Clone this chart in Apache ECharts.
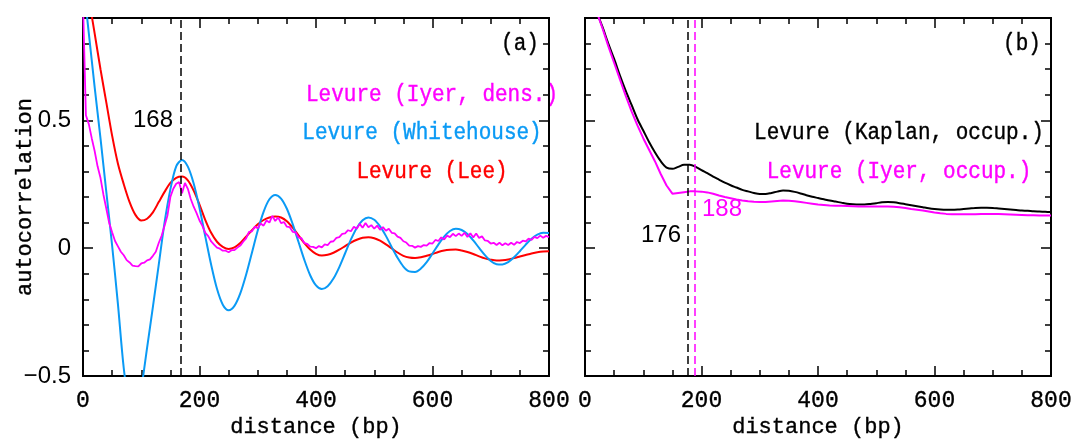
<!DOCTYPE html>
<html>
<head>
<meta charset="utf-8">
<script src="https://cdn.jsdelivr.net/npm/echarts@6/dist/echarts.min.js"></script>
<style>
  html, body { margin: 0; padding: 0; background: #fff; }
  #chart { width: 1073px; height: 441px; }
</style>
</head>
<body>
<div id="chart"></div>
<script>
const step = 10
const fineStep = 5

// panel (a)
const whitehouse = [
  1.05, 0.84, 0.63, 0.43, 0.22, 0.01, -0.22, -0.47, -0.62, -0.66,
  -0.55, -0.39, -0.23, -0.065, 0.1, 0.23, 0.32, 0.345, 0.319, 0.253,
  0.157, 0.045, -0.065, -0.159, -0.221, -0.243, -0.226, -0.177, -0.104, -0.018,
  0.069, 0.142, 0.191, 0.208, 0.194, 0.154, 0.094, 0.024, -0.046, -0.106,
  -0.146, -0.16, -0.149, -0.119, -0.074, -0.02, 0.034, 0.079, 0.109, 0.12,
  0.111, 0.085, 0.048, 0.004, -0.038, -0.072, -0.091, -0.093, -0.08, -0.055,
  -0.021, 0.014, 0.045, 0.067, 0.076, 0.071, 0.055, 0.03, 0.001, -0.027,
  -0.05, -0.063, -0.064, -0.055, -0.036, -0.012, 0.014, 0.037, 0.053, 0.06,
  0.059
]
const lee = [
  1.15, 0.98, 0.84, 0.7, 0.57, 0.44, 0.33, 0.25, 0.18, 0.13,
  0.108, 0.115, 0.14, 0.18, 0.22, 0.255, 0.275, 0.28, 0.265, 0.225,
  0.17, 0.11, 0.06, 0.025, 0.005, -0.003, 0.003, 0.02, 0.045, 0.07,
  0.093, 0.11, 0.12, 0.124, 0.12, 0.105, 0.08, 0.05, 0.02, -0.005,
  -0.022, -0.029, -0.026, -0.018, -0.006, 0.008, 0.022, 0.033, 0.041, 0.043,
  0.039, 0.029, 0.015, -0.001, -0.017, -0.03, -0.037, -0.039, -0.036, -0.03,
  -0.023, -0.015, -0.009, -0.006, -0.005, -0.009, -0.015, -0.023, -0.032, -0.04,
  -0.045, -0.048, -0.047, -0.044, -0.039, -0.033, -0.027, -0.021, -0.016, -0.013,
  -0.012
]
const iyerDens = [
  0.96, 0.52, 0.485, 0.43, 0.38, 0.32, 0.275, 0.21, 0.155, 0.098,
  0.062, 0.028, 0.007, -0.014, -0.028, -0.047, -0.056, -0.068, -0.07, -0.071,
  -0.06, -0.057, -0.048, -0.044, -0.03, -0.014, 0.02, 0.048, 0.088, 0.128,
  0.2, 0.232, 0.252, 0.258, 0.215, 0.255, 0.232, 0.192, 0.162, 0.137,
  0.108, 0.087, 0.06, 0.047, 0.026, 0.014, 0.002, -0.002, -0.01, -0.01,
  -0.016, -0.008, -0.008, 0.002, 0.01, 0.025, 0.038, 0.064, 0.066, 0.084,
  0.078, 0.096, 0.088, 0.108, 0.1, 0.126, 0.106, 0.12, 0.098, 0.102,
  0.084, 0.082, 0.064, 0.062, 0.042, 0.039, 0.02, 0.017, 0.006, 0.005,
  0.0, 0.008, 0.003, 0.015, 0.012, 0.025, 0.027, 0.04, 0.043, 0.056,
  0.058, 0.07, 0.066, 0.084, 0.076, 0.095, 0.08, 0.098, 0.082, 0.09,
  0.076, 0.088, 0.072, 0.082, 0.068, 0.076, 0.06, 0.058, 0.045, 0.04,
  0.027, 0.022, 0.01, 0.009, 0.002, 0.008, 0.005, 0.012, 0.01, 0.02,
  0.018, 0.032, 0.028, 0.042, 0.034, 0.049, 0.043, 0.056, 0.047, 0.057,
  0.048, 0.06, 0.044, 0.058, 0.042, 0.057, 0.04, 0.046, 0.03, 0.028,
  0.018, 0.021, 0.012, 0.021, 0.011, 0.019, 0.012, 0.021, 0.013, 0.024,
  0.02, 0.029, 0.026, 0.037, 0.032, 0.044, 0.039, 0.049, 0.041, 0.048,
  0.043
]

// panel (b)
const kaplanOccup = [
  1.06, 0.99, 0.925, 0.865, 0.8, 0.74, 0.675, 0.615, 0.56, 0.505,
  0.46, 0.415, 0.375, 0.34, 0.315, 0.31, 0.318, 0.326, 0.326, 0.318,
  0.305, 0.293, 0.28, 0.268, 0.256, 0.246, 0.237, 0.228, 0.222, 0.216,
  0.212, 0.212, 0.216, 0.221, 0.225, 0.224, 0.22, 0.214, 0.207, 0.201,
  0.196, 0.191, 0.186, 0.182, 0.178, 0.174, 0.172, 0.171, 0.171, 0.173,
  0.176, 0.179, 0.18, 0.179, 0.176, 0.172, 0.168, 0.164, 0.16, 0.156,
  0.153, 0.151, 0.15, 0.15, 0.151, 0.153, 0.155, 0.157, 0.158, 0.158,
  0.157, 0.155, 0.153, 0.151, 0.149, 0.147, 0.146, 0.144, 0.143, 0.142,
  0.141
]
const iyerOccup = [
  1.06, 0.99, 0.925, 0.86, 0.79, 0.725, 0.66, 0.595, 0.535, 0.48,
  0.43, 0.385, 0.34, 0.29, 0.245, 0.213, 0.216, 0.219, 0.222, 0.222,
  0.221, 0.218, 0.213, 0.206, 0.2, 0.195, 0.19, 0.186, 0.183, 0.181,
  0.18, 0.18, 0.182, 0.184, 0.186, 0.185, 0.183, 0.18, 0.177, 0.174,
  0.171, 0.169, 0.167, 0.166, 0.166, 0.165, 0.164, 0.163, 0.163, 0.163,
  0.163, 0.163, 0.163, 0.162, 0.16, 0.157, 0.153, 0.15, 0.147, 0.143,
  0.139, 0.136, 0.134, 0.133, 0.133, 0.133, 0.133, 0.133, 0.134, 0.134,
  0.134, 0.134, 0.133, 0.132, 0.131, 0.13, 0.129, 0.129, 0.128, 0.128,
  0.128
]

// dashed peak markers (bp)
const peakA = [168]
const peakB = [176, 188]

const MONO = "'Liberation Mono', 'DejaVu Sans Mono', monospace"
const SANS = "'Liberation Sans', Arial, sans-serif"
const BLUE = '#0a9af5'
const MAGENTA = '#ff00ff'

function pairs (vals, dx) {
  return vals.map((v, i) => [i * dx, v])
}

const chart = echarts.init(document.getElementById('chart'))

const grids = [
  { left: 83, right: 524, top: 18, bottom: 65, outerBoundsMode: 'none', containLabel: false },
  { left: 585, right: 22, top: 18, bottom: 65, outerBoundsMode: 'none', containLabel: false }
]

const xAxes = []
const yAxes = []
const tickStyle = { color: '#000', width: 1.5 }
// slightly thicker strokes for the typewriter text
const monoText = { fontFamily: MONO, color: '#000', textBorderColor: '#000', textBorderWidth: 0.35 }
grids.forEach((g, gi) => {
  // bottom and mirrored top x axis
  ;['bottom', 'top'].forEach(pos => {
    xAxes.push({
      gridIndex: gi,
      type: 'value',
      position: pos,
      min: 0,
      max: 800,
      interval: 200,
      name: pos === 'bottom' ? 'distance (bp)' : '',
      nameLocation: 'middle',
      nameGap: 40,
      nameMoveOverlap: false,
      nameTextStyle: Object.assign({ fontSize: 22 }, monoText),
      axisLine: { onZero: false, lineStyle: { color: '#000', width: 2 } },
      axisTick: { inside: true, length: 10, lineStyle: tickStyle },
      minorTick: { show: true, splitNumber: 4, length: 6, lineStyle: tickStyle },
      splitLine: { show: false },
      minorSplitLine: { show: false },
      axisLabel: Object.assign({
        show: pos === 'bottom',
        fontSize: 23,
        margin: 13
      }, monoText)
    })
  })
  // left and right y axes: one for the 0.1 ticks, one for the 0.5 ticks
  ;['left', 'right'].forEach(pos => {
    yAxes.push({
      gridIndex: gi,
      type: 'value',
      position: pos,
      min: -0.5,
      max: 0.9,
      interval: 0.1,
      axisLine: { onZero: false, lineStyle: { color: '#000', width: 2 } },
      axisTick: { inside: true, length: 6, lineStyle: tickStyle },
      splitLine: { show: false },
      axisLabel: { show: false }
    })
    yAxes.push({
      gridIndex: gi,
      type: 'value',
      position: pos,
      min: -0.5,
      max: 0.9,
      interval: 0.5,
      name: (gi === 0 && pos === 'left') ? 'autocorrelation' : '',
      nameLocation: 'middle',
      nameGap: 47,
      nameMoveOverlap: false,
      nameTextStyle: Object.assign({ fontSize: 22 }, monoText),
      axisLine: { onZero: false, lineStyle: { color: '#000', width: 2 } },
      axisTick: { inside: true, length: 10, lineStyle: tickStyle },
      splitLine: { show: false },
      axisLabel: {
        show: gi === 0 && pos === 'left',
        showMaxLabel: false,
        fontFamily: SANS,
        fontSize: 24,
        color: '#000',
        margin: 12,
        formatter: v => {
          if (Math.abs(v) < 1e-6) return '0'
          if (Math.abs(v - 0.5) < 1e-6) return '0.5'
          if (Math.abs(v + 0.5) < 1e-6) return '\u22120.5'
          return ''
        }
      }
    })
  })
})

function dashed (values, color) {
  return {
    silent: true,
    symbol: ['none', 'none'],
    label: { show: false },
    lineStyle: { type: [8, 4], color: color, width: 1.5 },
    data: values.map(v => ({ xAxis: v }))
  }
}

function line (name, vals, dx, color, gi, extra) {
  return Object.assign({
    name: name,
    type: 'line',
    xAxisIndex: gi * 2,
    yAxisIndex: gi * 4 + 1,
    data: pairs(vals, dx),
    showSymbol: false,
    symbol: 'none',
    clip: true,
    lineStyle: { color: color, width: 2 },
    z: 3
  }, extra || {})
}

function label (text, x, y, color, font, mono) {
  return {
    type: 'text',
    x: x,
    y: y,
    silent: true,
    scaleY: mono ? 1.15 : 1,
    style: {
      text: text,
      fill: color,
      font: font,
      stroke: mono ? color : null,
      lineWidth: mono ? 0.35 : 0,
      align: 'center',
      verticalAlign: 'middle'
    }
  }
}

const option = {
  animation: false,
  backgroundColor: '#fff',
  grid: grids,
  xAxis: xAxes,
  yAxis: yAxes,
  series: [
    line('Levure (Lee)', lee, step, '#ff0000', 0, { smooth: 0.3, markLine: dashed(peakA, '#000') }),
    line('Levure (Whitehouse)', whitehouse, step, BLUE, 0, { smooth: 0.3 }),
    line('Levure (Iyer, dens.)', iyerDens, fineStep, MAGENTA, 0, { lineStyle: { color: MAGENTA, width: 1.8 } }),
    line('Levure (Kaplan, occup.)', kaplanOccup, step, '#000', 1, { smooth: 0.3, markLine: dashed([peakB[0]], '#000') }),
    line('Levure (Iyer, occup.)', iyerOccup, step, MAGENTA, 1, { markLine: dashed([peakB[1]], MAGENTA) })
  ],
  graphic: [
    label('(a)', 520, 44, '#000', '21px ' + MONO, true),
    label('(b)', 1022, 44, '#000', '21px ' + MONO, true),
    label('Levure (Iyer, dens.)', 432, 95, MAGENTA, '21px ' + MONO, true),
    label('Levure (Whitehouse)', 422, 133, BLUE, '21px ' + MONO, true),
    label('Levure (Lee)', 432, 172, '#ff0000', '21px ' + MONO, true),
    label('Levure (Kaplan, occup.)', 899, 133, '#000', '21px ' + MONO, true),
    label('Levure (Iyer, occup.)', 899, 172, MAGENTA, '21px ' + MONO, true),
    label(String(peakA[0]), 153, 120, '#000', '24px ' + SANS, false),
    label(String(peakB[0]), 661, 235, '#000', '24px ' + SANS, false),
    label(String(peakB[1]), 722, 209, MAGENTA, '24px ' + SANS, false)
  ]
}

chart.setOption(option)
window.addEventListener('resize', () => {
  chart.resize()
})
</script>
</body>
</html>
